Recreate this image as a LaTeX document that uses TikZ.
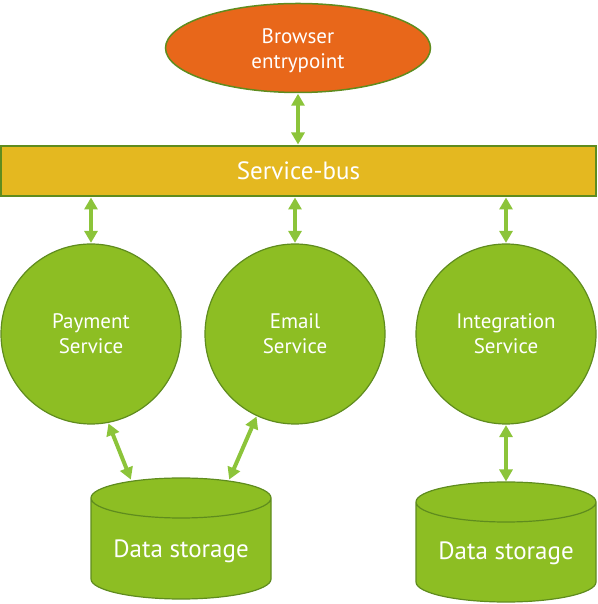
\documentclass[tikz,border=0pt]{standalone}
\usepackage{fontspec}
\setmainfont{PT Sans}
\usetikzlibrary{arrows.meta,shapes.geometric}
\definecolor{orangefill}{HTML}{E8671A}
\definecolor{busfill}{HTML}{E4B820}
\definecolor{greenfill}{HTML}{8DBE23}
\definecolor{greenline}{HTML}{5F8C1E}
\definecolor{arrowgreen}{HTML}{8CC43A}
\tikzset{
  entry/.style={ellipse, draw=greenline, line width=1.5pt, fill=orangefill, text=white,
    minimum width=265pt, minimum height=89pt, inner sep=0pt, align=center, font=\fontsize{21pt}{25pt}\selectfont},
  bus/.style={rectangle, draw=greenline, line width=2pt, fill=busfill, text=white,
    minimum width=595pt, minimum height=50pt, inner sep=0pt, font=\fontsize{25pt}{28pt}\selectfont},
  service/.style={circle, draw=greenline, line width=1.2pt, fill=greenfill, text=white,
    minimum size=180pt, inner sep=0pt, align=center, font=\fontsize{21pt}{25pt}\selectfont},
  dstext/.style={text=white, inner sep=0pt, font=\fontsize{25pt}{28pt}\selectfont},
  cyl/.style={draw=greenline, line width=1.2pt, fill=greenfill},
  link/.style={arrowgreen, line width=4pt, {Triangle[width=13pt,length=12pt]}-{Triangle[width=13pt,length=12pt]}, shorten <=0.5pt, shorten >=0.5pt}
}
\begin{document}
\begin{tikzpicture}[x=1pt,y=1pt]
\useasboundingbox (0,0) rectangle (597,604);
% cylinders drawn directly
\def\cylinder#1#2#3#4{% x0, x1, ytop, ybottom
  \pgfmathsetmacro\rx{(#2-#1)/2}
  \fill[greenfill] (#1,#3-20) -- (#1,#4+20) arc[start angle=180,end angle=360,x radius=\rx,y radius=20] -- (#2,#3-20) arc[start angle=0,end angle=180,x radius=\rx,y radius=20] -- cycle;
  \draw[cyl,fill=none] (#1,#3-20) -- (#1,#4+20) arc[start angle=180,end angle=360,x radius=\rx,y radius=20] -- (#2,#3-20) arc[start angle=0,end angle=180,x radius=\rx,y radius=20] arc[start angle=180,end angle=360,x radius=\rx,y radius=20];
}
\cylinder{91}{271}{126}{5}
\cylinder{416}{596}{122}{2}
\node[dstext] (dsl) at (181,53) {Data storage};
\node[dstext] (dsr) at (506,51) {Data storage};
\coordinate (dsltop1) at (131,124);
\coordinate (dsltop2) at (229,124);
\coordinate (dsrtop) at (506,122);

\node[entry] (browser) at (298,556) {};
\node[align=center, text=white, inner sep=0pt, font=\fontsize{21pt}{25pt}\selectfont] (browsertext) at (298,553) {Browser\\entrypoint};
\node[bus] (bus) at (298.5,433) {Service-bus};
\node[service] (pay) at (91,270) {Payment\\Service};
\node[service] (email) at (295,270) {Email\\Service};
\node[service] (integ) at (506,270) {Integration\\Service};

\draw[link] (browser.south) -- (bus.north -| browser.south);
\draw[link] (bus.south -| pay.north) -- (pay.north);
\draw[link] (bus.south -| email.north) -- (email.north);
\draw[link] (bus.south -| integ.north) -- (integ.north);
\draw[link] (pay.-79) -- (dsltop1);
\draw[link] (email.-115) -- (dsltop2);
\draw[link] (integ.south) -- (dsrtop);
\end{tikzpicture}
\end{document}
